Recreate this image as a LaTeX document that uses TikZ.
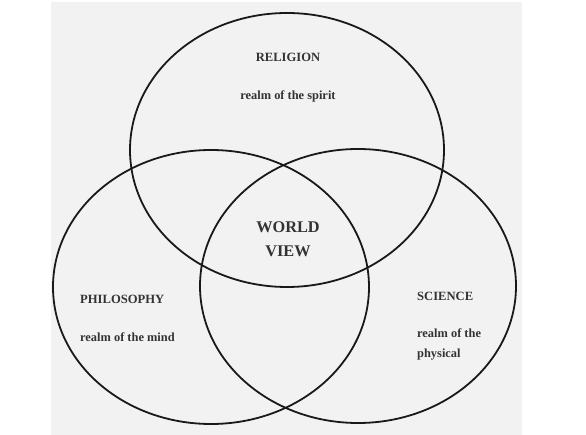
\documentclass[tikz,border=0pt]{standalone}
\usepackage{fontspec}
\setmainfont{Liberation Serif}
\usepackage{tikz}

\tikzset{
  realm/.style={draw=black!90, line width=1.8pt},
  title/.style={text=black!80, font=\fontsize{12.6}{14}\selectfont\bfseries, inner sep=0pt},
  sub/.style={text=black!80, font=\fontsize{12.4}{20}\selectfont\bfseries, inner sep=0pt, align=left},
  core/.style={text=black!80, font=\fontsize{16.3}{24}\selectfont\bfseries, inner sep=0pt, align=center}
}

\begin{document}
\begin{tikzpicture}[x=1pt,y=-1pt]
\useasboundingbox (0,0) rectangle (586,435);
\fill[white] (0,0) rectangle (586,435);
\fill[black!5] (51,2) rectangle (522,435);

\draw[realm] (287,150) ellipse [x radius=157pt, y radius=137pt];
\draw[realm] (211,287) ellipse [x radius=158pt, y radius=137pt];
\draw[realm] (358,286) ellipse [x radius=158pt, y radius=137pt];

\node[title] (religion) at (288,57) {RELIGION};
\node[sub] (spirit) at (288,96) {realm of the spirit};

\node[core] (world) at (288,239) {WORLD\\VIEW};

\node[title, anchor=west] (philosophy) at (80,299) {PHILOSOPHY};
\node[sub, anchor=west] (mind) at (80,337) {realm of the mind};

\node[title, anchor=west] (science) at (417,296) {SCIENCE};
\node[sub, anchor=north west] (physical) at (417,329) {realm of the\\physical};

\end{tikzpicture}
\end{document}
